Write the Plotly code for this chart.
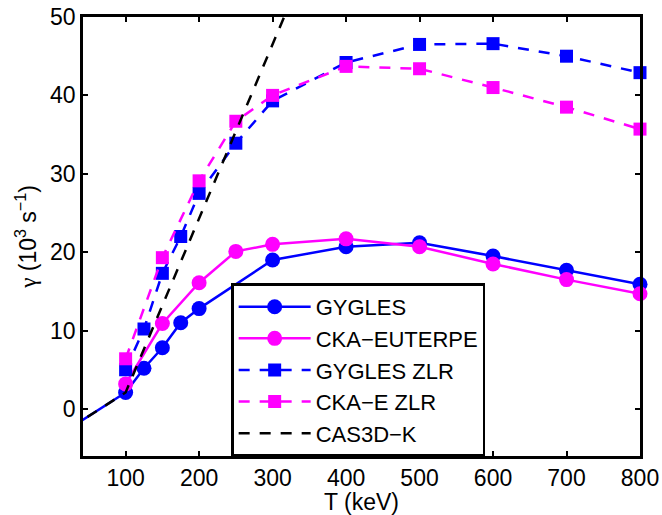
import plotly.graph_objects as go

# ---- data ----
T_gygles = [100, 125, 150, 175, 200, 300, 400, 500, 600, 700, 800]
g_gygles = [2.1, 5.2, 7.8, 11.0, 12.8, 19.0, 20.7, 21.2, 19.5, 17.7, 15.9]
T_gygles_lead = [0, 100]
g_gygles_lead = [-3.9, 2.1]

T_cka = [100, 150, 200, 250, 300, 400, 500, 600, 700, 800]
g_cka = [3.2, 10.9, 16.1, 20.1, 21.0, 21.7, 20.7, 18.5, 16.5, 14.7]

T_gygles_zlr = [100, 125, 150, 175, 200, 250, 300, 400, 500, 600, 700, 800]
g_gygles_zlr = [5.0, 10.2, 17.3, 22.0, 27.5, 33.9, 39.3, 44.2, 46.5, 46.6, 45.0, 42.9]

T_cka_zlr = [100, 150, 200, 250, 300, 400, 500, 600, 700, 800]
g_cka_zlr = [6.4, 19.3, 29.1, 36.7, 40.0, 43.7, 43.4, 41.0, 38.5, 35.7]

T_cas3d = [0, 100, 340]
g_cas3d = [-3.9, 2.1, 55.4]

x_ticks = [100, 200, 300, 400, 500, 600, 700, 800]
y_ticks = [0, 10, 20, 30, 40, 50]

BLUE = "#0000FF"
MAG = "#FF00FF"
FONT = "Liberation Sans, Arial, sans-serif"
LW = 2.5
DASH = "11px,10px"

fig = go.Figure()
fig.add_trace(go.Scatter(x=T_gygles_lead, y=g_gygles_lead, mode="lines",
                         line=dict(color=BLUE, width=LW), showlegend=False,
                         hoverinfo="skip"))
fig.add_trace(go.Scatter(x=T_gygles, y=g_gygles, mode="lines+markers", name="GYGLES",
                         line=dict(color=BLUE, width=LW),
                         marker=dict(symbol="circle", size=15, color=BLUE),
                         cliponaxis=False))
fig.add_trace(go.Scatter(x=T_cka, y=g_cka, mode="lines+markers", name="CKA\u2212EUTERPE",
                         line=dict(color=MAG, width=LW),
                         marker=dict(symbol="circle", size=15, color=MAG),
                         cliponaxis=False))
fig.add_trace(go.Scatter(x=T_gygles_zlr, y=g_gygles_zlr, mode="lines+markers", name="GYGLES ZLR",
                         line=dict(color=BLUE, width=LW, dash=DASH),
                         marker=dict(symbol="square", size=13, color=BLUE),
                         cliponaxis=False))
fig.add_trace(go.Scatter(x=T_cka_zlr, y=g_cka_zlr, mode="lines+markers", name="CKA\u2212E ZLR",
                         line=dict(color=MAG, width=LW, dash=DASH),
                         marker=dict(symbol="square", size=13, color=MAG),
                         cliponaxis=False))
fig.add_trace(go.Scatter(x=T_cas3d, y=g_cas3d, mode="lines", name="CAS3D\u2212K",
                         line=dict(color="black", width=LW, dash=DASH)))

axis_common = dict(showline=True, linecolor="black", linewidth=2.5, mirror="ticks",
                   ticks="inside", ticklen=5, tickwidth=2, tickcolor="black",
                   showgrid=False, zeroline=False, automargin=False,
                   tickfont=dict(family=FONT, size=23, color="black"))

fig.update_layout(
    width=662, height=515,
    margin=dict(l=83, r=22, t=17, b=59),
    plot_bgcolor="white", paper_bgcolor="white",
    xaxis=dict(range=[42, 800], tickvals=x_ticks,
               title=dict(text="T (keV)", font=dict(family=FONT, size=23, color="black"),
                          standoff=3),
               **axis_common),
    yaxis=dict(range=[-6, 50], tickvals=y_ticks,
               title=dict(text="<span style='font-family:Liberation Serif'>\u03b3</span> (10<sup>3</sup> s<sup>\u22121</sup>)",
                          font=dict(family=FONT, size=23, color="black"), standoff=8),
               **axis_common),
    legend=dict(x=0.266, y=0.196, xanchor="left", yanchor="middle",
                bgcolor="white", bordercolor="black", borderwidth=2.5,
                font=dict(family=FONT, size=22, color="black"),
                tracegroupgap=0, itemwidth=72),
    showlegend=True,
)

fig.write_html("out.html", post_script="document.body.style.margin='0';",
               config={"displayModeBar": False})
